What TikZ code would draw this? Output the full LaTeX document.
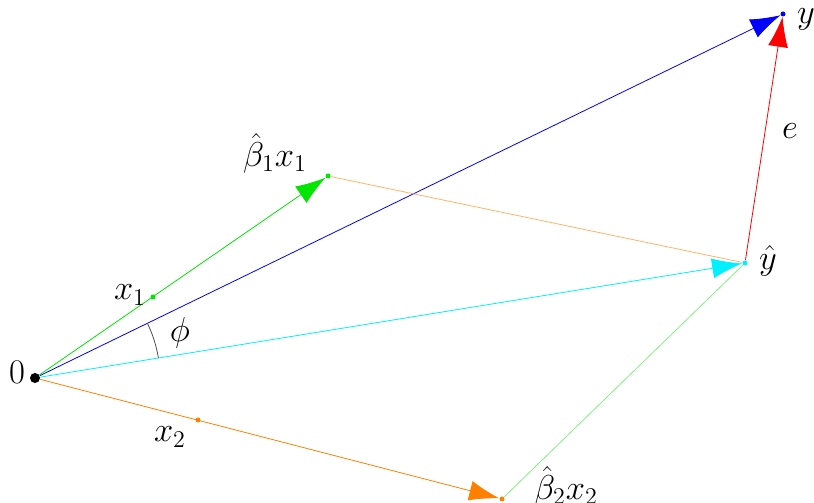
\documentclass[tikz,border=0pt]{standalone}
\usepackage{amsmath}
\usetikzlibrary{arrows.meta,positioning}
\definecolor{vgreen}{RGB}{0,230,0}
\definecolor{vorange}{RGB}{255,128,0}
\definecolor{vcyan}{RGB}{0,240,255}

\begin{document}
\begin{tikzpicture}[x=0.5pt, y=0.5pt, font=\LARGE,
  vec/.style={-{Latex[length=15pt,width=10pt]}},
  dot/.style={circle, fill, inner sep=0pt, minimum size=2.5pt}]
\useasboundingbox (0,0) rectangle (814,503);

% points
\node[dot, minimum size=5pt] (o) at (35,125) {};
\node[dot, blue] (y) at (783,489) {};
\node[dot, vcyan] (yhat) at (745,240) {};
\node[dot, vgreen] (bx1) at (328,327) {};
\node[dot, vgreen] (x1) at (153,206) {};
\node[dot, vorange] (bx2) at (502,4) {};
\node[dot, vorange] (x2) at (198,83) {};

% vectors
\draw[blue, vec] (o) -- (y);
\draw[vcyan, vec] (o) -- (yhat);
\draw[vgreen, vec] (o) -- (bx1);
\draw[vorange, vec] (o) -- (bx2);
\draw[red, vec] (yhat) -- (y);
\draw[vorange!60] (bx1) -- (yhat);
\draw[vgreen!50] (bx2) -- (yhat);

% angle
\draw[black!70] (o) ++(9.2:125) arc (9.2:26:125);

% labels
\node (lo) at (17,131) {$0$};
\node (lx1) at (130,208) {$x_1$};
\node (lphi) at (180,170) {$\phi$};
\node (lx2) at (170,66) {$x_2$};
\node (lbx1) at (275,350) {$\hat{\beta}_1x_1$};
\node (lbx2) at (566,17) {$\hat{\beta}_2x_2$};
\node (ly) at (806,484) {$y$};
\node (lyhat) at (768,242) {$\hat{y}$};
\node (le) at (790,372) {$e$};
\end{tikzpicture}
\end{document}
